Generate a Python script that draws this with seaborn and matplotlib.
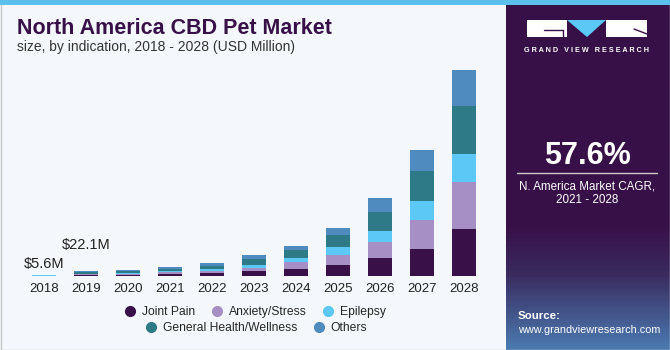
import numpy as np
import pandas as pd
import matplotlib
matplotlib.use("Agg")
import matplotlib.pyplot as plt
import seaborn as sns
from matplotlib.patches import Rectangle, Polygon
from matplotlib.lines import Line2D
from matplotlib.colors import LinearSegmentedColormap

years = ["2018", "2019", "2020", "2021", "2022", "2023", "2024", "2025", "2026", "2027", "2028"]
segments = ["Joint Pain", "Anxiety/Stress", "Epilepsy", "General Health/Wellness", "Others"]
joint_pain = [1.4, 5.5, 7, 11, 16, 25, 34, 54, 88, 134, 229]
anxiety = [0.9, 3.5, 5, 7, 10, 16, 34, 49, 80, 142, 233]
epilepsy = [0.8, 3.0, 4, 6, 9, 15, 20, 41, 54, 93, 139]
general_health = [1.5, 6.0, 8, 11, 16, 25, 38, 55, 92, 146, 232]
others = [1.0, 4.1, 6, 8, 11, 20, 23, 36, 67, 103, 180]
annot_labels = ["$5.6M", "$22.1M"]

colors = ["#3a1048", "#a58fc4", "#5bc8f5", "#2e7a87", "#4f8bbf"]
bg = "#f4f8fc"
purple = "#381048"

sns.set_theme(style="white")
plt.rcParams["font.family"] = ["Liberation Sans", "DejaVu Sans"]

df = pd.DataFrame({"year": years, "Joint Pain": joint_pain, "Anxiety/Stress": anxiety,
                   "Epilepsy": epilepsy, "General Health/Wellness": general_health,
                   "Others": others})
cum = df[segments].cumsum(axis=1)

fig = plt.figure(figsize=(6.7, 3.5), dpi=100)
fig.patch.set_facecolor(bg)

ax = fig.add_axes([23/670, 74/350, 462/670, 216/350])
ax.set_facecolor(bg)
for seg, col in reversed(list(zip(segments, colors))):
    sns.barplot(x=df["year"], y=cum[seg], order=years, color=col, width=0.57,
                saturation=1, ax=ax, linewidth=0)
ax.set_xlim(-0.5, 10.5)
ax.set_ylim(0, 1060)
ax.set_yticks([])
ax.set_xlabel("")
ax.set_ylabel("")
for s in ax.spines.values():
    s.set_visible(False)
ax.tick_params(axis="x", length=0, pad=5, labelsize=9.5, labelcolor="#222222")

totals = cum["Others"].values
offsets = [3, 14]
for i, lab in enumerate(annot_labels):
    ax.annotate(lab, (i, totals[i]), xytext=(0, offsets[i]), textcoords="offset points",
                ha="center", va="bottom", fontsize=10.5, color="#222222")

def fx(x):
    return x/670
def fy(y):
    return 1 - y/350

# title
fig.text(fx(17), fy(28), "North America CBD Pet Market", fontsize=15.5,
         fontweight="bold", color=purple, va="center", ha="left")
fig.text(fx(17), fy(47), "size, by indication, 2018 - 2028 (USD Million)",
         fontsize=10, color="#333333", va="center", ha="left")

# legend
h = [Line2D([], [], marker="o", ls="", color=c, markersize=7) for c in colors]
fig.legend(h[:3], segments[:3], loc="center", bbox_to_anchor=(fx(255), fy(312)),
           ncol=3, frameon=False, fontsize=8.7, handletextpad=0.5, columnspacing=1.3,
           handlelength=1.0)
fig.legend(h[3:], segments[3:], loc="center", bbox_to_anchor=(fx(256), fy(328)),
           ncol=2, frameon=False, fontsize=8.7, handletextpad=0.5, columnspacing=1.3,
           handlelength=1.0)

# frame and top strip
fig.add_artist(Rectangle((0.5/670, 0.5/350), 669/670, 348/350, transform=fig.transFigure,
                         fill=False, edgecolor="#c8c8c8", lw=1))
fig.add_artist(Rectangle((0, fy(5)), 1, 5/350, transform=fig.transFigure,
                         facecolor="#5bc0eb", edgecolor="none"))

# right panel
px0 = 506/670
pax = fig.add_axes([px0, 0, 1 - px0, 345/350])
grad = np.linspace(0, 1, 200)[:, None]
cmap = LinearSegmentedColormap.from_list("p", [(0, "#4a7ab0"), (0.22, "#3a2a5e"),
                                               (0.36, purple), (1, purple)])
pax.imshow(grad, aspect="auto", cmap=cmap, extent=[0, 1, 0, 1], origin="lower")
pax.set_xlim(0, 1)
pax.set_ylim(0, 1)
pax.axis("off")

# logo
fig.add_artist(Rectangle((fx(527), fy(37)), fx(40), 17/350, transform=fig.transFigure,
                         facecolor="white", edgecolor="none"))
fig.add_artist(Rectangle((fx(606), fy(37)), fx(41), 17/350, transform=fig.transFigure,
                         facecolor="white", edgecolor="none"))
fig.add_artist(Polygon([(fx(567), fy(20)), (fx(606), fy(20)), (fx(587), fy(37))],
                       closed=True, transform=fig.transFigure, facecolor="#5bc8f5",
                       edgecolor="none"))
fig.add_artist(Line2D([fx(544), fx(563)], [fy(30), fy(30)], transform=fig.transFigure,
                      color=purple, lw=1))
fig.add_artist(Line2D([fx(563), fx(563)], [fy(30), fy(37)], transform=fig.transFigure,
                      color=purple, lw=1))
fig.add_artist(Line2D([fx(634), fx(647)], [fy(29), fy(34)], transform=fig.transFigure,
                      color=purple, lw=1))
fig.text(fx(587), fy(50), "G R A N D   V I E W   R E S E A R C H", color="white",
         fontsize=5.2, fontweight="bold", ha="center", va="center")

fig.text(fx(587), fy(156), "57.6%", color="white", fontsize=22, fontweight="bold",
         ha="center", va="center")
fig.add_artist(Line2D([fx(517), fx(657)], [fy(173), fy(173)], transform=fig.transFigure,
                      color="#cccccc", lw=1))
fig.text(fx(587), fy(186), "N. America Market CAGR,", color="white", fontsize=8.4,
         ha="center", va="center")
fig.text(fx(587), fy(200), "2021 - 2028", color="white", fontsize=8.4,
         ha="center", va="center")
fig.text(fx(518), fy(316), "Source:", color="white", fontsize=8.2, fontweight="bold",
         ha="left", va="center")
fig.text(fx(518), fy(330), "www.grandviewresearch.com", color="white", fontsize=7.8,
         ha="left", va="center")

fig.savefig("out.png", dpi=100, facecolor=fig.get_facecolor())
